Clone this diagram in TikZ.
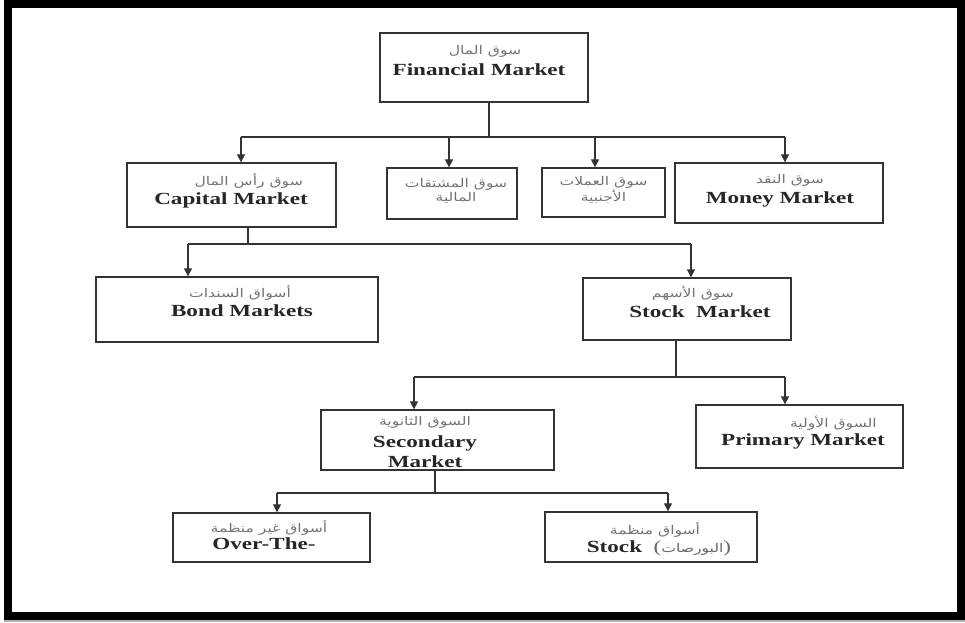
\documentclass[tikz,border=0pt]{standalone}
\usepackage{fontspec}
\setmainfont{Liberation Serif}[FakeStretch=1.36]
\newfontfamily\arabicfont[Script=Arabic,FakeStretch=1.3]{DejaVu Sans}
\TeXXeTstate=1
\usetikzlibrary{arrows.meta}

\tikzset{
  box/.style={draw=black!80, line width=1.3pt, inner sep=0pt},
  en/.style={font=\fontsize{17}{19.5}\selectfont\bfseries, text=black!85, inner sep=0pt, align=center},
  ar/.style={font=\fontsize{12}{14}\selectfont\arabicfont, text=black!55, inner sep=0pt, align=center},
  link/.style={draw=black!80, line width=1.2pt},
  arr/.style={link, -{Triangle[length=8pt,width=8pt]}},
}

\begin{document}
\begin{tikzpicture}[x=1pt, y=-1pt]
\useasboundingbox (0,0) rectangle (965,622);

% outer frame
\draw[line width=8pt] (8,3.5) rectangle (961,616);
\fill[black!30] (4,620) rectangle (965,622);

% boxes
\node[box, minimum width=208, minimum height=69] (fin)  at (484,67.5) {};
\node[box, minimum width=209, minimum height=64] (cap)  at (231.5,195) {};
\node[box, minimum width=130, minimum height=51] (der)  at (452,193.5) {};
\node[box, minimum width=123, minimum height=49] (cur)  at (603.5,192.5) {};
\node[box, minimum width=208, minimum height=60] (mon)  at (779,193) {};
\node[box, minimum width=282, minimum height=65] (bond) at (237,309.5) {};
\node[box, minimum width=208, minimum height=62] (stk)  at (687,309) {};
\node[box, minimum width=233, minimum height=60] (sec)  at (437.5,440) {};
\node[box, minimum width=207, minimum height=63] (pri)  at (799.5,436.5) {};
\node[box, minimum width=197, minimum height=49] (otc)  at (271.5,537.5) {};
\node[box, minimum width=212, minimum height=50] (exch) at (651,537) {};

% labels
\node[ar] (finAr) at (485,51) {\beginR سوق المال\endR};
\node[en] (finEn) at (479,70) {Financial Market};
\node[ar, anchor=east] (capAr) at (303,181) {\beginR سوق رأس المال\endR};
\node[en] (capEn) at (231,200) {Capital Market};
\node[ar] (derAr) at (456,191) {\beginR سوق المشتقات\endR\\\beginR المالية\endR};
\node[ar] (curAr) at (603.5,190) {\beginR سوق العملات\endR\\\beginR الأجنبية\endR};
\node[ar] (monAr) at (790,180) {\beginR سوق النقد\endR};
\node[en] (monEn) at (780,199) {Money Market};
\node[ar] (bondAr) at (240,293) {\beginR أسواق السندات\endR};
\node[en] (bondEn) at (242,311) {Bond Markets};
\node[ar] (stkAr) at (693,293) {\beginR سوق الأسهم\endR};
\node[en] (stkEn) at (700,312) {Stock~~Market};
\node[ar] (secAr) at (425,422) {\beginR السوق الثانوية\endR};
\node[en] (secEn) at (425,451.5) {Secondary\\Market};
\node[ar, anchor=east] (priAr) at (877,423) {\beginR السوق الأولية\endR};
\node[en] (priEn) at (803,441) {Primary Market};
\node[ar] (otcAr) at (269,528) {\beginR أسواق غير منظمة\endR};
\node[en] (otcEn) at (264,544) {Over-The-};
\node[ar] (exchAr) at (655,530) {\beginR أسواق منظمة\endR};
\node[en] (exchEn) at (659,548) {Stock~~{\mdseries\color{black!60}(}{\arabicfont\fontsize{12}{14}\selectfont\mdseries\color{black!60}\beginR البورصات\endR}{\mdseries\color{black!60})}};

% connectors: Financial Market -> four markets
\coordinate (s1) at (489,137);
\coordinate (s1a) at (241,137);
\coordinate (s1b) at (449,137);
\coordinate (s1c) at (595,137);
\coordinate (s1d) at (785,137);
\draw[link] (s1 |- fin.south) -- (s1);
\draw[link] (s1a) -- (s1d);
\draw[arr] (s1a) -- (s1a |- cap.north);
\draw[arr] (s1b) -- (s1b |- der.north);
\draw[arr] (s1c) -- (s1c |- cur.north);
\draw[arr] (s1d) -- (s1d |- mon.north);

% Capital Market -> bonds, stocks
\coordinate (s2) at (248,244);
\coordinate (s2a) at (188,244);
\coordinate (s2b) at (691,244);
\draw[link] (s2 |- cap.south) -- (s2);
\draw[link] (s2a) -- (s2b);
\draw[arr] (s2a) -- (s2a |- bond.north);
\draw[arr] (s2b) -- (s2b |- stk.north);

% Stock Market -> secondary, primary
\coordinate (s3) at (676,377);
\coordinate (s3a) at (414,377);
\coordinate (s3b) at (785,377);
\draw[link] (s3 |- stk.south) -- (s3);
\draw[link] (s3a) -- (s3b);
\draw[arr] (s3a) -- (s3a |- sec.north);
\draw[arr] (s3b) -- (s3b |- pri.north);

% Secondary Market -> OTC, exchanges
\coordinate (s4) at (435,493);
\coordinate (s4a) at (277,493);
\coordinate (s4b) at (668,493);
\draw[link] (s4 |- sec.south) -- (s4);
\draw[link] (s4a) -- (s4b);
\draw[arr] (s4a) -- (s4a |- otc.north);
\draw[arr] (s4b) -- (s4b |- exch.north);
\end{tikzpicture}
\end{document}
